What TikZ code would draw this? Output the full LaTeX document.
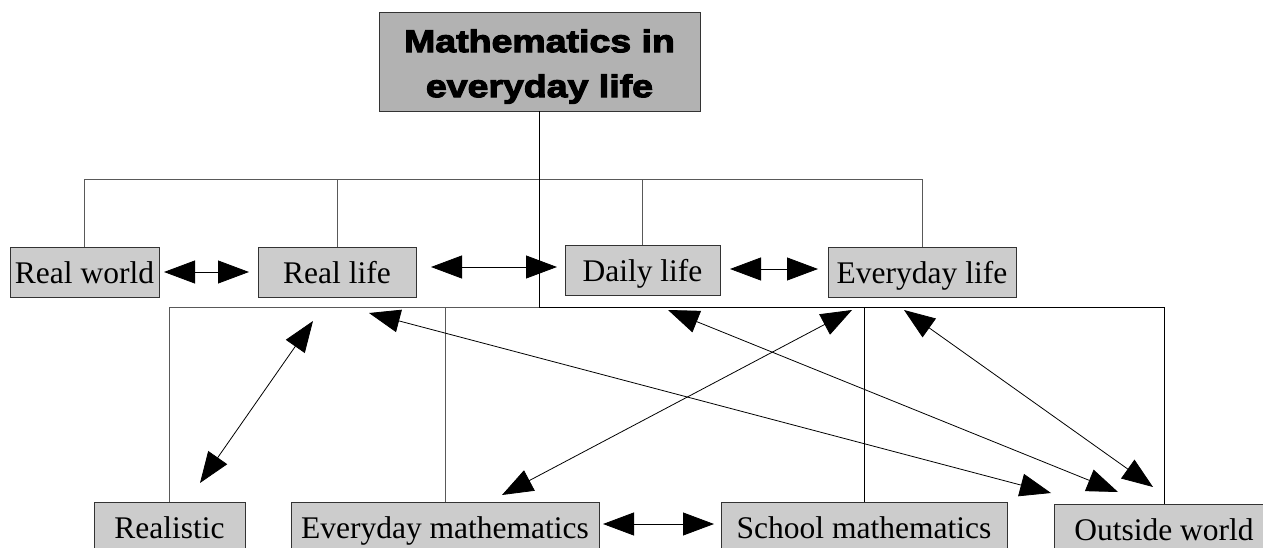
\documentclass[tikz,border=0pt]{standalone}
\usepackage{fontspec}
\setmainfont{Liberation Serif}
\newfontfamily\headfont[FakeStretch=1.19,BoldFeatures={FakeBold=3.5}]{Liberation Sans}
\usetikzlibrary{arrows.meta}
\begin{document}
\begin{tikzpicture}[x=1pt,y=-1pt,
  box/.style={draw=black!80, fill=black!20, line width=0.9pt, inner sep=0pt,
    minimum height=50pt, font=\fontsize{31.5}{36}\selectfont, text height=22pt, text depth=0pt},
  headbox/.style={draw=black!80, fill=black!30, line width=0.9pt, inner sep=0pt,
    minimum width=321pt, minimum height=99pt},
  headtext/.style={align=center, inner sep=0pt, yshift=-5pt,
    font=\headfont\bfseries\fontsize{31.5}{45}\selectfont},
  tree/.style={draw=black!65, line width=1pt},
  treedark/.style={draw=black, line width=1pt},
  trunk/.style={draw=black, line width=1.6pt},
  link/.style={draw=black, line width=0.8pt,
    {Triangle[length=31pt,width=23pt]}-{Triangle[length=31pt,width=23pt]}}
]
\clip (0,0) rectangle (1263,548);
\fill[white] (0,0) rectangle (1263,548);

% nodes
\node[headbox, label={[headtext]center:{Mathematics in\\everyday life}}] (top) at (539.5,61.5) {};
\node[box, minimum width=149pt] (rw) at (84.5,272) {Real world};
\node[box, minimum width=158pt] (rl) at (337,272) {Real life};
\node[box, minimum width=155pt] (dl) at (642.5,270.5) {Daily life};
\node[box, minimum width=188pt] (ey) at (922,272) {Everyday life};
\node[box, minimum width=151pt] (re) at (169.5,527) {Realistic};
\node[box, minimum width=308pt] (em) at (445,527) {Everyday mathematics};
\node[box, minimum width=286pt] (sm) at (864,527) {School mathematics};
\node[box, minimum width=220pt] (ow) at (1164,529) {Outside world};

% tree
\coordinate (bus1) at (0,180);
\coordinate (bus2) at (0,307.5);
\draw[tree] (rw.north) -- (rw.north |- bus1) -- (ey.north |- bus1) -- (ey.north);
\draw[tree] (rl.north) -- (rl.north |- bus1);
\draw[tree] (dl.north) -- (dl.north |- bus1);
\draw[tree] (re.north) -- (re.north |- bus2) -- (top.south |- bus2);
\draw[tree] (em.north) -- (em.north |- bus2);
\draw[treedark] (top.south |- bus2) -- (ow.north |- bus2) -- (ow.north);
\draw[treedark] (sm.north) -- (sm.north |- bus2);
\draw[trunk] (top.south) -- (top.south |- bus2);

% arrow ends
\coordinate (a1s) at (164,272);  \coordinate (a1e) at (249,272);
\coordinate (a2s) at (431,267);  \coordinate (a2e) at (557,267);
\coordinate (a3s) at (730,269);  \coordinate (a3e) at (818,269);
\coordinate (a4s) at (200,483);  \coordinate (a4e) at (313,321);
\coordinate (a5s) at (369,313);  \coordinate (a5e) at (1051,493);
\coordinate (a6s) at (502,495);  \coordinate (a6e) at (852,310);
\coordinate (a7s) at (668,310);  \coordinate (a7e) at (1118,492);
\coordinate (a8s) at (904,310);  \coordinate (a8e) at (1153,487);
\coordinate (a9s) at (603,524);  \coordinate (a9e) at (714,524);

\draw[link] (a1s) -- (a1e);
\draw[link] (a2s) -- (a2e);
\draw[link] (a3s) -- (a3e);
\draw[link] (a4s) -- (a4e);
\draw[link] (a5s) -- (a5e);
\draw[link] (a6s) -- (a6e);
\draw[link] (a7s) -- (a7e);
\draw[link] (a8s) -- (a8e);
\draw[link] (a9s) -- (a9e);
\end{tikzpicture}
\end{document}
